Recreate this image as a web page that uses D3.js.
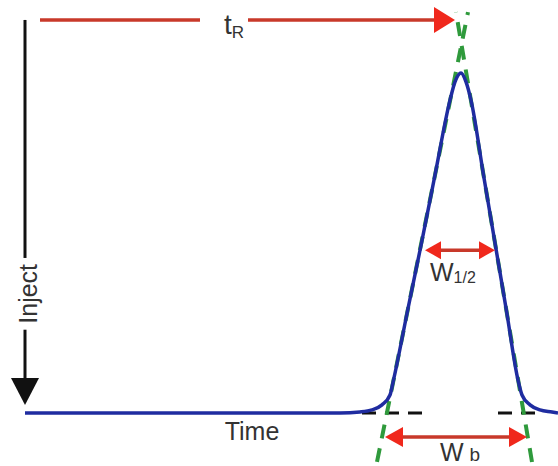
<!DOCTYPE html>
<html>
  <head>
    <meta charset="utf-8" />
    <title>Chromatogram peak</title>
    <script src="https://d3js.org/d3.v7.min.js"></script>
    <style>
      body { margin: 0; background: #fff; }
      text { font-family: "Liberation Sans", Arial, sans-serif; fill: #333; }
    </style>
  </head>

  <body>
    <svg id="viz"></svg>

    <script>
        // detector trace, time in min, signal in % of peak height
        var peakTime   = [0, 6.3, 6.7, 6.94, 7.14, 7.3, 7.37, 7.65, 7.93, 8.2, 8.5, 8.6,  8.72, 8.82, 8.92, 9.17, 9.4, 9.63, 9.86, 9.94, 10.1, 10.3, 10.54, 10.66];
        var peakSignal = [0, 0,   0.3, 0.9,  2.4,  5.3, 9.7,  30,   50,   70,  92,  97.4, 100,  97.4, 92,   70,   50,  30,   9.7,  5.3,  2.4,  0.9,  0.3,   0];

        // tangent lines drawn on the flanks [time, signal]
        var tangentLeft  = [[7.04, -14.4], [8.86, 117.9]];
        var tangentRight = [[10.14, -14.4], [8.62, 117.9]];

        // baseline extrapolation dashes
        var baseDashes = [[6.74, 7.98], [9.46, 10.3]];

        // annotations
        var tR      = {from: 0.3, to: 8.6, level: 115.6, gap: [3.5, 4.46]};
        var wHalf   = {from: 8.0, to: 9.4, level: 47.9};
        var wBase   = {from: 7.2, to: 10.04, level: -7.06};
        var inject  = {time: 0, from: 115.6, to: 2.35, gap: [45.6, 24.5]};

        var width = 558, height = 466;

        var svg = d3.select("#viz")
            .attr("width", width)
            .attr("height", height);

        var x = d3.scaleLinear().domain([0, 10.66]).range([25, 558]);
        var y = d3.scaleLinear().domain([0, 100]).range([413, 73]);

        var line = d3.line()
            .x(function(d) { return x(d[0]); })
            .y(function(d) { return y(d[1]); });

        // black dashed baseline bits
        svg.selectAll(".base")
            .data(baseDashes)
            .enter().append("line")
            .attr("x1", function(d) { return x(d[0]); })
            .attr("x2", function(d) { return x(d[1]); })
            .attr("y1", y(0)).attr("y2", y(0))
            .style("stroke", "#111")
            .style("stroke-width", 3)
            .style("stroke-dasharray", "14,9");

        // green tangents
        svg.selectAll(".tan")
            .data([tangentLeft, tangentRight])
            .enter().append("path")
            .attr("d", line)
            .style("fill", "none")
            .style("stroke", "#2f9a3c")
            .style("stroke-width", 4)
            .style("stroke-dasharray", "14,10");

        // the peak
        var trace = peakTime.map(function(t, i) { return [t, peakSignal[i]]; });
        svg.append("path")
            .datum(trace)
            .attr("d", line.curve(d3.curveMonotoneX))
            .style("fill", "none")
            .style("stroke", "#1f2ca0")
            .style("stroke-width", 3.5);

        var red = "#f0281c", redLine = "#c8392a";

        function head(px, py, dir, len, half, color) {
            // dir: 1 pointing right, -1 left, 2 down
            var pts;
            if (dir === 2) pts = [[px, py], [px - half, py - len], [px + half, py - len]];
            else pts = [[px, py], [px - dir * len, py - half], [px - dir * len, py + half]];
            svg.append("polygon")
                .attr("points", pts.map(function(p) { return p.join(","); }).join(" "))
                .style("fill", color);
        }

        function hline(x1, x2, yy, color) {
            svg.append("line")
                .attr("x1", x1).attr("x2", x2)
                .attr("y1", yy).attr("y2", yy)
                .style("stroke", color)
                .style("stroke-width", 3.5);
        }

        // t_R arrow
        var ty = y(tR.level);
        hline(x(tR.from), x(tR.gap[0]), ty, redLine);
        hline(x(tR.gap[1]), x(tR.to) - 15, ty, redLine);
        head(x(tR.to), ty, 1, 21, 13, red);
        var tlab = svg.append("text")
            .attr("x", x(tR.gap[0]) + 24)
            .attr("y", ty + 14)
            .style("font-size", "28px");
        tlab.append("tspan").text("t");
        tlab.append("tspan").attr("dy", 4).style("font-size", "17px").text("R");

        // W1/2 arrow
        var hy = y(wHalf.level);
        hline(x(wHalf.from) + 12, x(wHalf.to) - 12, hy, redLine);
        head(x(wHalf.from), hy, -1, 16, 9, red);
        head(x(wHalf.to), hy, 1, 16, 9, red);
        var wlab = svg.append("text")
            .attr("x", x(wHalf.from) + 5)
            .attr("y", hy + 31)
            .style("font-size", "25px");
        wlab.append("tspan").text("W");
        wlab.append("tspan").attr("dy", 2).style("font-size", "16px").text("1/2");

        // Wb arrow
        var by = y(wBase.level);
        hline(x(wBase.from) + 12, x(wBase.to) - 12, by, redLine);
        head(x(wBase.from), by, -1, 18, 10, red);
        head(x(wBase.to), by, 1, 18, 10, red);
        var blab = svg.append("text")
            .attr("x", x(wBase.from) + 55)
            .attr("y", by + 24)
            .style("font-size", "25px");
        blab.append("tspan").text("W");
        blab.append("tspan").attr("dx", 6).style("font-size", "19px").text("b");

        // Inject arrow
        var ix = x(inject.time);
        svg.append("line")
            .attr("x1", ix).attr("x2", ix)
            .attr("y1", y(inject.from)).attr("y2", y(inject.gap[0]))
            .style("stroke", "#111").style("stroke-width", 3);
        svg.append("line")
            .attr("x1", ix).attr("x2", ix)
            .attr("y1", y(inject.gap[1])).attr("y2", y(inject.to) - 20)
            .style("stroke", "#111").style("stroke-width", 3);
        head(ix, y(inject.to), 2, 27, 14, "#111");
        svg.append("text")
            .attr("transform", "translate(" + (ix + 12) + "," + ((y(inject.gap[0]) + y(inject.gap[1])) / 2) + ") rotate(-90)")
            .attr("text-anchor", "middle")
            .style("font-size", "25px")
            .text("Inject");

        // axis label
        svg.append("text")
            .attr("x", 252)
            .attr("y", 440)
            .attr("text-anchor", "middle")
            .style("font-size", "25px")
            .text("Time");
    </script>
  </body>
</html>
